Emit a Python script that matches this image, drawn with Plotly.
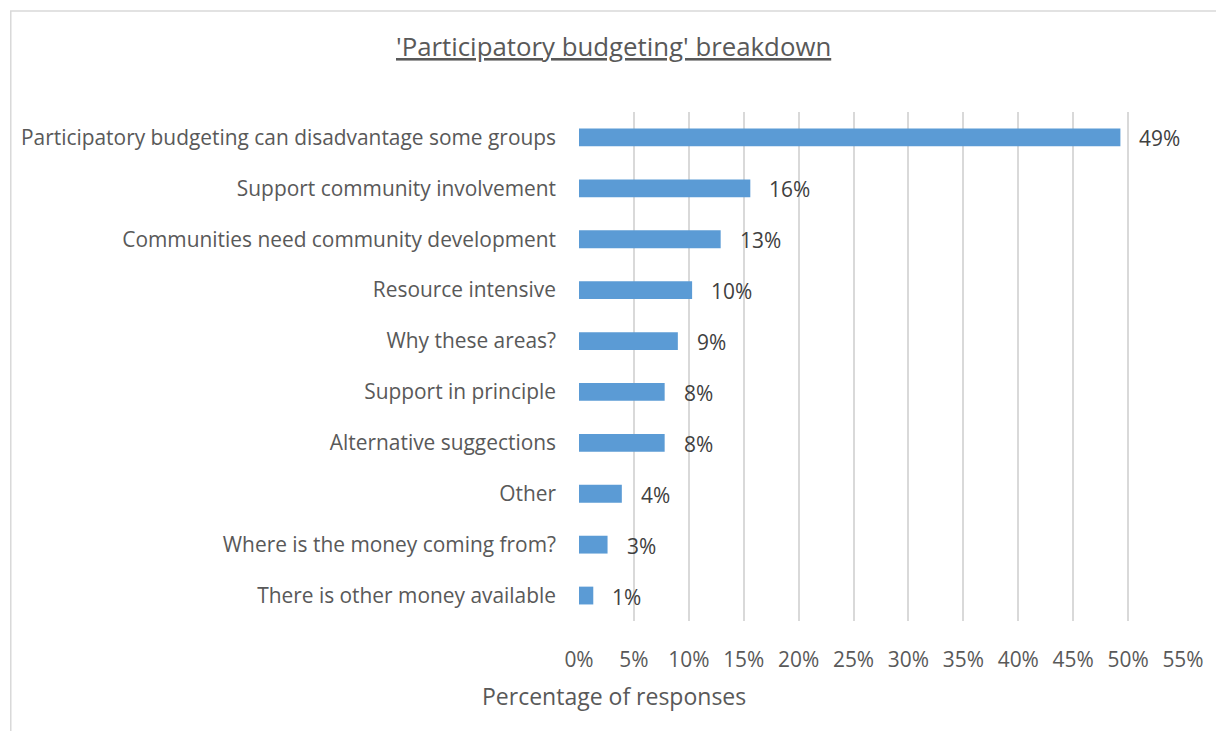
import plotly.graph_objects as go

# Survey themes, top to bottom, with share of responses (%)
categories = [
    "Participatory budgeting can disadvantage some groups",
    "Support community involvement",
    "Communities need community development",
    "Resource intensive",
    "Why these areas?",
    "Support in principle",
    "Alternative suggections",
    "Other",
    "Where is the money coming from?",
    "There is other money available",
]
shares = [49.3, 15.6, 12.9, 10.3, 9.0, 7.8, 7.8, 3.9, 2.6, 1.3]
x_ticks = list(range(0, 56, 5))
x_tick_labels = [f"{t}%" for t in x_ticks]

W, H = 1216, 731
L, R, T, B = 579, 29, 112, 110
pw, ph = W - L - R, H - T - B

def px_x(p):
    return (p - L) / pw

def px_y(p):
    return (H - B - p) / ph

font_family = "Open Sans, Lato, sans-serif"
label_size = 20.9

fig = go.Figure(
    go.Bar(
        x=shares,
        y=categories,
        orientation="h",
        marker=dict(color="#5B9BD5", line=dict(width=0)),
        width=0.35,
        hoverinfo="skip",
    )
)

# value labels to the right of each bar
for cat, v in zip(categories, shares):
    fig.add_annotation(
        x=v, y=cat, xref="x", yref="y",
        text=f"{v:.0f}%", showarrow=False,
        xanchor="left", yanchor="middle", xshift=17, yshift=-1,
        font=dict(family=font_family, size=label_size, color="#404040"),
    )

# chart title (underlined) and axis title
fig.add_annotation(
    x=px_x(614), y=px_y(46), xref="paper", yref="paper",
    text="<u>'Participatory budgeting' breakdown</u>", showarrow=False,
    xanchor="center", yanchor="middle",
    font=dict(family=font_family, size=25.8, color="#595959"),
)
fig.add_annotation(
    x=px_x(614), y=px_y(696), xref="paper", yref="paper",
    text="Percentage of responses", showarrow=False,
    xanchor="center", yanchor="middle",
    font=dict(family=font_family, size=23, color="#595959"),
)

# outer chart frame
fig.add_shape(
    type="rect", xref="paper", yref="paper",
    x0=px_x(7), x1=px_x(1240), y0=px_y(11), y1=px_y(760),
    line=dict(color="#D9D9D9", width=1.5), fillcolor="rgba(0,0,0,0)",
    layer="below",
)

fig.update_layout(
    width=W, height=H,
    margin=dict(l=L, r=R, t=T, b=B, pad=0),
    paper_bgcolor="white", plot_bgcolor="white",
    showlegend=False,
    font=dict(family=font_family, color="#595959"),
    xaxis=dict(
        range=[0, 55], tickvals=x_ticks, ticktext=x_tick_labels,
        showgrid=True, gridcolor="#D9D9D9", gridwidth=1.5,
        zeroline=False, showline=False, ticks="",
        ticklabelstandoff=24,
        tickfont=dict(family=font_family, size=label_size, color="#595959"),
        fixedrange=True,
    ),
    yaxis=dict(
        autorange="reversed", showgrid=False, zeroline=False,
        showline=False, ticks="", ticklabelstandoff=22,
        tickfont=dict(family=font_family, size=label_size, color="#595959"),
        fixedrange=True,
    ),
)

fig.write_html("out.html")
